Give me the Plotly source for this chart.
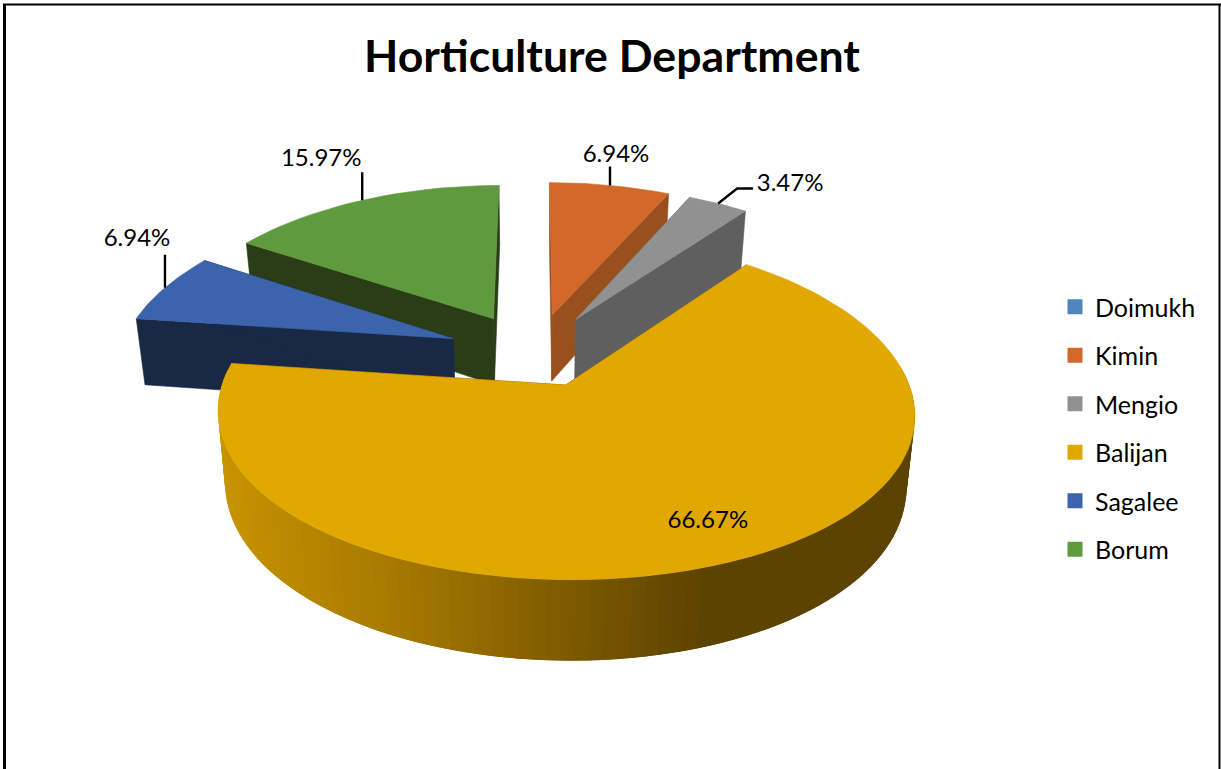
import math
import plotly.graph_objects as go

# Chart content
title = "Horticulture Department"
categories = ["Doimukh", "Kimin", "Mengio", "Balijan", "Sagalee", "Borum"]
values = [0.0, 6.94, 3.47, 66.67, 6.94, 15.97]
labels = ["", "6.94%", "3.47%", "66.67%", "6.94%", "15.97%"]
top_colors = ["#4F87BC", "#D2692A", "#919191", "#E0A800", "#3B64AD", "#5F9A3E"]
wall_colors = ["#2F5173", "#99501C", "#5F5F5F", "#5C4300", "#182845", "#2A3D16"]

# Projection of the tilted disc onto the page
CX, CY = 534.0, 351.8
RX, RY = 332.4, 159.1
PERSPECTIVE_X, PERSPECTIVE_Y = 0.16, 0.133
EXPLODE = {"default": (0.262, 0.244), "Balijan": (0.24, 0.22), "Mengio": (0.25, 0.244)}
DEPTH = 68.0
TAPER = 0.022
FONT = "Lato"

# Curved wall shading on the large slice: (page x, r, g, b)
WALL_SHADE = [(217, 200, 148, 0), (400, 165, 120, 0), (570, 125, 90, 0), (705, 92, 67, 0), (915, 92, 67, 0)]

# Leader and label placement per slice, measured from the rim point at the mid-angle
LEADERS = {
    "Kimin": {"path": [(0, -19)], "text": (6, -29)},
    "Mengio": {"path": [(19, -15), (35, -15)], "text": (72, -19)},
    "Sagalee": {"path": [(0, -33)], "text": (-28, -48)},
    "Borum": {"path": [(0, -28)], "text": (-41, -40)},
}


def project(u, v, drop=0.0):
    sx = 1.0 / (1.0 + PERSPECTIVE_X * v)
    sy = 1.0 / (1.0 + PERSPECTIVE_Y * v)
    return CX + RX * u * sx * (1.0 - TAPER * drop / DEPTH), CY - RY * v * sy + drop * sy


def plane(theta, mid, name, r=1.0):
    eu, ev = EXPLODE.get(name, EXPLODE["default"])
    return eu * math.sin(mid) + r * math.sin(theta), ev * math.cos(mid) + r * math.cos(theta)


def shade(x):
    for (x0, *c0), (x1, *c1) in zip(WALL_SHADE, WALL_SHADE[1:]):
        if x <= x1:
            t = max(0.0, (x - x0) / (x1 - x0))
            return "rgb({:.0f},{:.0f},{:.0f})".format(*[a + (b - a) * t for a, b in zip(c0, c1)])
    return "rgb({},{},{})".format(*WALL_SHADE[-1][1:])


def polygon(points, color, group, edge=0.6):
    xs, ys = zip(*points)
    return go.Scatter(x=list(xs) + [xs[0]], y=list(ys) + [ys[0]], mode="lines", fill="toself",
                      fillcolor=color, line=dict(color=color, width=edge), hoverinfo="skip",
                      showlegend=False, legendgroup=group)


# Slice extents, clockwise from twelve o'clock
total = sum(values)
slices = {}
angle = 0.0
for name, val, top, wall, lab in zip(categories, values, top_colors, wall_colors, labels):
    sweep = 2 * math.pi * val / total
    slices[name] = dict(a0=angle, a1=angle + sweep, mid=angle + sweep / 2, top=top, wall=wall, label=lab)
    angle += sweep

fig = go.Figure()

# Painted from the far slices to the near one
for name in ["Borum", "Sagalee", "Kimin", "Mengio", "Balijan"]:
    s = slices[name]
    a0, a1, mid = s["a0"], s["a1"], s["mid"]
    n = 120 if name == "Balijan" else 24
    thetas = [a0 + (a1 - a0) * i / n for i in range(n + 1)]
    apex_uv = plane(a0, mid, name, 0.0)

    # Radial side walls
    for edge in (a0, a1):
        rim_uv = plane(edge, mid, name)
        fig.add_trace(polygon([project(*apex_uv), project(*rim_uv), project(*rim_uv, DEPTH),
                               project(*apex_uv, DEPTH)], s["wall"], name))

    # Curved outer wall, cut into overlapping shaded strips where it faces the viewer
    if name == "Balijan":
        facing = [t for t in thetas if math.cos(t) < 0.12]
        for i in range(len(facing) - 1):
            span = facing[i:i + 3]
            upper = [project(*plane(t, mid, name)) for t in span]
            lower = [project(*plane(t, mid, name), DEPTH) for t in reversed(span)]
            x_mid = (upper[0][0] + upper[1][0]) / 2
            fig.add_trace(polygon(upper + lower, shade(x_mid), name, edge=0))

    # Top face
    rim = [project(*plane(t, mid, name)) for t in thetas]
    fig.add_trace(polygon([project(*apex_uv)] + rim, s["top"], name))

# Value labels with leader lines
for name, spec in LEADERS.items():
    s = slices[name]
    rx, ry = project(*plane(s["mid"], s["mid"], name))
    path = [(rx, ry)] + [(rx + dx, ry + dy) for dx, dy in spec["path"]]
    fig.add_trace(go.Scatter(x=[p[0] for p in path], y=[p[1] for p in path], mode="lines",
                             line=dict(color="black", width=2.4), hoverinfo="skip", showlegend=False))
    fig.add_trace(go.Scatter(x=[rx + spec["text"][0]], y=[ry + spec["text"][1]], mode="text",
                             text=[s["label"]], textposition="middle center",
                             textfont=dict(family=FONT, size=24, color="black"),
                             hoverinfo="skip", showlegend=False))

big = slices["Balijan"]
tx, ty = project(*plane(big["mid"], big["mid"], "Balijan", 0.72))
fig.add_trace(go.Scatter(x=[tx + 32], y=[ty + 14], mode="text", text=[big["label"]],
                         textposition="middle center",
                         textfont=dict(family=FONT, size=24, color="black"),
                         hoverinfo="skip", showlegend=False))

# Legend entries, including the zero-valued category
for name, color in zip(categories, top_colors):
    fig.add_trace(go.Scatter(x=[None], y=[None], mode="markers", name=name, legendgroup=name,
                             marker=dict(symbol="square", size=15, color=color)))

fig.update_layout(
    width=1221, height=769,
    margin=dict(l=0, r=0, t=0, b=0),
    paper_bgcolor="white", plot_bgcolor="white",
    xaxis=dict(range=[0, 1221], visible=False, fixedrange=True),
    yaxis=dict(range=[769, 0], visible=False, fixedrange=True),
    title=dict(text=title, x=612 / 1221, xanchor="center", y=1 - 56 / 769, yanchor="middle",
               font=dict(family=FONT, size=44.6, color="black", weight="bold")),
    legend=dict(x=1055 / 1221, y=1 - 284 / 769, xanchor="left", yanchor="top",
                font=dict(family=FONT, size=25, color="black"), tracegroupgap=13,
                bgcolor="rgba(0,0,0,0)", itemclick=False, itemdoubleclick=False),
    shapes=[
        dict(type="line", xref="x", yref="y", x0=4.5, x1=4.5, y0=4, y1=769, line=dict(color="black", width=3)),
        dict(type="line", xref="x", yref="y", x0=3, x1=1221, y0=4.5, y1=4.5, line=dict(color="black", width=2)),
        dict(type="line", xref="x", yref="y", x0=1219.5, x1=1219.5, y0=4, y1=769, line=dict(color="black", width=2)),
    ],
)

fig.write_html("out.html")
